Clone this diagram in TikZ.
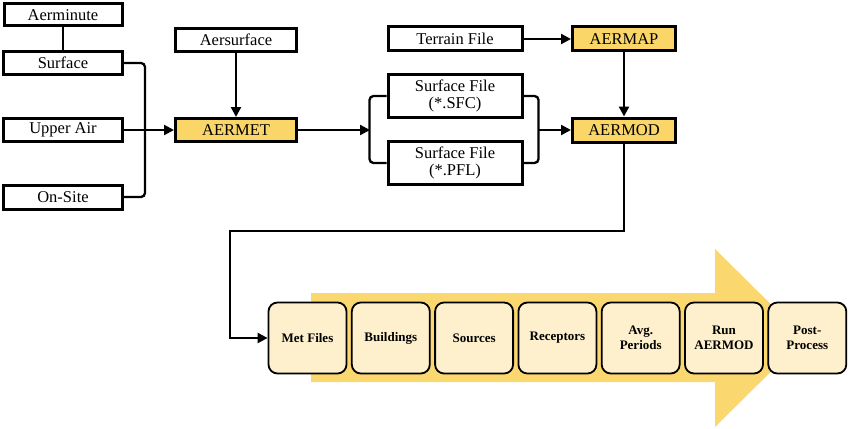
\documentclass[tikz,border=0pt]{standalone}
\usepackage{fontspec}
\setmainfont{Liberation Serif}
\usetikzlibrary{arrows.meta}
\definecolor{boxyellow}{RGB}{250,213,104}
\definecolor{bandyellow}{RGB}{251,215,112}
\definecolor{paleyellow}{RGB}{254,240,204}
\tikzset{
  topbox/.style={draw, line width=3pt, inner sep=0pt, font=\fontsize{16.5}{17}\selectfont, align=center},
  hotbox/.style={topbox, fill=boxyellow},
  conn/.style={line width=2.3pt},
  arr/.style={conn, -{Triangle[length=10pt,width=10pt]}},
  stepbox/.style={draw, line width=1.8pt, rounded corners=9pt, fill=paleyellow, minimum width=78pt, minimum height=71pt, inner sep=0pt, align=center, font=\fontsize{13}{15}\selectfont\bfseries},
}
\begin{document}
\begin{tikzpicture}[x=1pt,y=-1pt]
\useasboundingbox (0,0) rectangle (850,428);
% top-left inputs
\node[topbox, minimum width=118pt, minimum height=22pt] (aerminute) at (63,15) {Aerminute};
\node[topbox, minimum width=119pt, minimum height=23pt] (surface) at (63,63) {Surface};
\node[topbox, minimum width=119pt, minimum height=23pt] (upper) at (63,130) {Upper Air};
\node[topbox, minimum width=119pt, minimum height=24pt] (onsite) at (63,197) {On-Site};
\node[topbox, minimum width=121pt, minimum height=23pt] (aersurface) at (236,40) {Aersurface};
\node[hotbox, minimum width=121pt, minimum height=23pt] (aermet) at (236,130) {AERMET};
\node[topbox, minimum width=134pt, minimum height=24pt] (terrain) at (455,39) {Terrain File};
\node[hotbox, minimum width=103pt, minimum height=24pt] (aermap) at (624,39) {AERMAP};
\node[topbox, minimum width=134pt, minimum height=43pt] (sfc) at (455,96) {Surface File\\(*.SFC)};
\node[topbox, minimum width=134pt, minimum height=43pt] (pfl) at (455,163) {Surface File\\(*.PFL)};
\node[hotbox, minimum width=103pt, minimum height=24pt] (aermod) at (624,130) {AERMOD};
% helper coordinates
\coordinate (lbot) at (145,197);
\coordinate (mid1) at (370,130);
\coordinate (mid2) at (538,130);
\coordinate (k1) at (230,231);
% connectors
\draw[conn] (aerminute) -- (surface);
\draw[conn, rounded corners=4pt] (surface.east) -| (lbot) -- (onsite.east);
\draw[arr] (upper.east) -- (aermet.west);
\draw[arr] (aersurface.south) -- (aermet.north);
\draw[arr] (aermet.east) -- (mid1);
\draw[conn, rounded corners=4pt] (sfc.west) -- ++(-17,0) |- (pfl.west);
\draw[conn, rounded corners=4pt] (sfc.east) -- ++(15,0) |- (pfl.east);
\draw[arr] (mid2) -- (aermod.west);
\draw[arr] (terrain.east) -- (aermap.west);
\draw[arr] (aermap.south) -- (aermod.north);
% bottom process arrow
\fill[bandyellow] (311,293) -- (715,293) -- (715,249) -- (805,338) -- (715,427) -- (715,382) -- (311,382) -- cycle;
\node[stepbox] (met) at (307.5,338) {Met Files};
\node[stepbox] (bld) at (390.8,338) {Buildings};
\node[stepbox] (src) at (474.1,338) {Sources};
\node[stepbox] (rec) at (557.4,338) {Receptors};
\node[stepbox] (avg) at (640.7,338) {Avg.\\Periods};
\node[stepbox] (run) at (724,338) {Run\\AERMOD};
\node[stepbox] (post) at (807.3,338) {Post-\\Process};
\draw[arr] (aermod.south) |- (k1) |- (met.west);
\end{tikzpicture}
\end{document}
